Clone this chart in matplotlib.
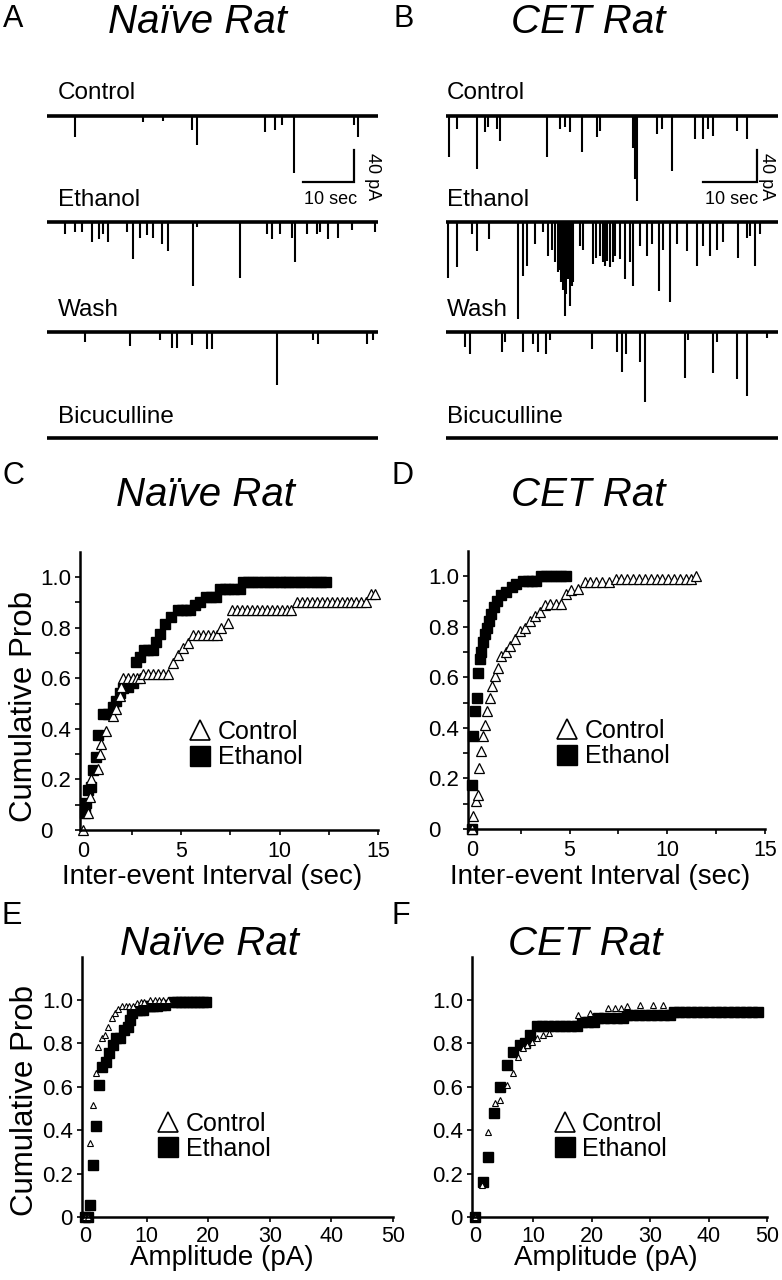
import numpy as np
import matplotlib
matplotlib.use('Agg')
import matplotlib.pyplot as plt
from matplotlib.lines import Line2D

plt.rcParams['font.family'] = ['Liberation Sans', 'DejaVu Sans']

W, H = 782, 1280

# ---------------- traces (event time in s, amplitude in pA) ----------------
trace_names = ['Control', 'Ethanol', 'Wash', 'Bicuculline']
trace_offsets = [0, -133, -270, -403]

naive_control_t = [5.5, 18.9, 22.8, 28.5, 29.5, 42.8, 44.8, 46.2, 48.5, 60.3, 61.1]
naive_control_a = [26, 8, 6, 17, 36, 20, 17, 11, 71, 11, 26]
naive_ethanol_t = [3.5, 5.5, 6.9, 8.8, 10.2, 11.0, 12.0, 15.7, 16.9, 18.3, 19.6, 20.8, 22.6,
                   23.8, 28.7, 29.5, 37.9, 43.2, 44.2, 45.8, 48.1, 48.7, 51.1, 53.0, 53.6,
                   55.2, 57.2, 59.9, 64.5]
naive_ethanol_a = [15, 12, 12, 25, 21, 15, 24, 12, 46, 19, 16, 19, 27, 36, 80, 6, 69, 15, 21,
                   15, 20, 50, 15, 15, 12, 21, 19, 10, 12]
naive_wash_t = [7.5, 16.3, 22.2, 24.6, 25.5, 28.5, 31.4, 32.4, 45.2, 52.3, 53.2, 62.9, 64.0]
naive_wash_a = [12, 17, 10, 20, 20, 16, 21, 21, 66, 10, 15, 15, 10]
naive_bic_t = []
naive_bic_a = []

cet_control_t = [0.6, 2.0, 5.7, 7.2, 7.8, 9.4, 10.0, 18.7, 21.1, 22.0, 23.0, 25.2, 28.0, 28.5,
                 34.7, 35.0, 35.4, 39.1, 40.0, 41.9, 46.1, 47.6, 48.5, 49.4, 53.9, 55.7]
cet_control_a = [51, 16, 66, 20, 14, 16, 31, 51, 16, 14, 20, 45, 26, 19, 40, 79, 106, 22, 16,
                 69, 29, 29, 16, 25, 19, 29]
cet_ethanol_t = [0.4, 2.0, 4.8, 5.7, 8.0, 13.3, 14.3, 15.0, 16.5, 18.0, 18.9, 19.6, 20.2, 20.7,
                 21.0, 21.3, 21.7, 22.0, 22.3, 22.6, 23.0, 23.3, 23.5, 24.8, 25.4, 27.2, 27.8,
                 28.5, 29.0, 29.4, 29.9, 30.4, 30.9, 31.3, 32.2, 33.1, 34.1, 34.6, 35.9, 37.2,
                 38.1, 39.4, 40.2, 41.5, 42.8, 44.6, 46.5, 47.6, 48.9, 50.2, 51.3, 54.1, 55.7,
                 56.3, 57.2, 58.1]
cet_ethanol_a = [69, 56, 15, 36, 21, 121, 67, 55, 27, 12, 42, 34, 50, 62, 60, 75, 84, 117, 90,
                 71, 105, 80, 75, 30, 34, 52, 45, 42, 50, 55, 48, 56, 50, 42, 46, 71, 50, 80,
                 30, 42, 27, 86, 34, 100, 27, 36, 55, 30, 42, 34, 25, 44, 20, 17, 55, 15]
cet_wash_t = [3.5, 4.4, 10.4, 10.9, 14.3, 16.1, 17.0, 18.5, 19.3, 27.0, 31.7, 32.6, 33.3, 35.9,
              36.9, 44.3, 44.8, 49.4, 50.2, 53.9, 55.7, 59.4]
cet_wash_a = [19, 27, 25, 12, 25, 15, 25, 27, 10, 21, 25, 50, 27, 37, 87, 57, 10, 51, 12, 59,
              80, 8]
cet_bic_t = []
cet_bic_a = []

# ---------------- cumulative probability data ----------------
c_ctrl_x = [0, 0.25, 0.34, 0.43, 0.76, 0.85, 0.94, 1.19, 1.53, 1.7, 1.87, 1.95, 2.05, 2.3, 2.55,
            2.75, 2.9, 3.05, 3.3, 3.55, 3.8, 4.05, 4.3, 4.6, 4.83, 5.08, 5.34, 5.6, 5.85, 6.1,
            6.35, 6.6, 6.8, 7.04, 7.38, 7.6, 7.85, 8.1, 8.35, 8.6, 8.85, 9.1, 9.35, 9.6, 9.85,
            10.1, 10.35, 10.6, 10.9, 11.15, 11.4, 11.65, 11.9, 12.15, 12.4, 12.65, 12.9, 13.15,
            13.4, 13.65, 13.9, 14.15, 14.4, 14.65, 14.85]
c_ctrl_y = [0, 0.067, 0.13, 0.2, 0.24, 0.30, 0.34, 0.39, 0.45, 0.48, 0.53, 0.565, 0.6, 0.6, 0.6,
            0.6, 0.6, 0.618, 0.618, 0.618, 0.618, 0.618, 0.618, 0.66, 0.69, 0.72, 0.74, 0.77,
            0.77, 0.77, 0.77, 0.77, 0.77, 0.80, 0.82, 0.868, 0.868, 0.868, 0.868, 0.868, 0.868,
            0.868, 0.868, 0.868, 0.868, 0.868, 0.868, 0.868, 0.9, 0.9, 0.9, 0.9, 0.9, 0.9, 0.9,
            0.9, 0.9, 0.9, 0.9, 0.9, 0.9, 0.9, 0.9, 0.934, 0.934]
c_eth_x = [0.08, 0.17, 0.25, 0.43, 0.51, 0.68, 0.76, 1.02, 1.26, 1.53, 1.7, 1.87, 2.03, 2.29,
           2.54, 2.71, 2.88, 3.1, 3.33, 3.56, 3.73, 3.9, 4.15, 4.49, 4.83, 5.03, 5.23, 5.42,
           5.68, 5.93, 6.27, 6.52, 6.78, 6.95, 7.2, 7.45, 7.7, 7.97, 8.13, 8.4, 8.65, 8.9, 9.2,
           9.45, 9.7, 10.0, 10.25, 10.5, 10.8, 11.05, 11.3, 11.6, 11.85, 12.1, 12.37]
c_eth_y = [0.066, 0.105, 0.158, 0.17, 0.237, 0.29, 0.375, 0.46, 0.46, 0.487, 0.51, 0.54, 0.56,
           0.565, 0.58, 0.664, 0.684, 0.71, 0.71, 0.71, 0.743, 0.776, 0.815, 0.84, 0.868,
           0.868, 0.868, 0.868, 0.888, 0.90, 0.92, 0.92, 0.92, 0.954, 0.954, 0.954, 0.954,
           0.954, 0.979, 0.979, 0.979, 0.979, 0.979, 0.979, 0.979, 0.979, 0.979, 0.979, 0.979,
           0.979, 0.979, 0.979, 0.979, 0.979, 0.979]

d_ctrl_x = [0, 0.07, 0.2, 0.29, 0.37, 0.49, 0.58, 0.66, 0.78, 0.92, 1.05, 1.17, 1.34, 1.51, 1.73,
            1.94, 2.19, 2.45, 2.7, 2.96, 3.21, 3.47, 3.72, 3.98, 4.28, 4.58, 4.83, 5.09, 5.43,
            5.77, 6.05, 6.35, 6.65, 7.04, 7.35, 7.65, 7.95, 8.25, 8.55, 8.85, 9.15, 9.45, 9.75,
            10.05, 10.35, 10.65, 10.95, 11.2, 11.45]
d_ctrl_y = [0, 0.05, 0.11, 0.135, 0.24, 0.31, 0.366, 0.41, 0.465, 0.518, 0.565, 0.605, 0.638,
            0.684, 0.698, 0.724, 0.75, 0.783, 0.796, 0.823, 0.843, 0.857, 0.884, 0.89, 0.89,
            0.89, 0.93, 0.943, 0.95, 0.977, 0.977, 0.977, 0.977, 0.977, 0.99, 0.99, 0.99, 0.99,
            0.99, 0.99, 0.99, 0.99, 0.99, 0.99, 0.99, 0.99, 0.99, 0.99, 1.0]
d_eth_x = [0, 0, 0.07, 0.15, 0.24, 0.32, 0.41, 0.49, 0.58, 0.66, 0.78, 0.88, 1.0, 1.12, 1.26,
           1.51, 1.77, 2.03, 2.28, 2.62, 2.85, 3.08, 3.3, 3.56, 3.8, 4.05, 4.3, 4.55, 4.83]
d_eth_y = [0, 0.175, 0.366, 0.465, 0.518, 0.617, 0.67, 0.698, 0.74, 0.77, 0.796, 0.823, 0.85,
           0.876, 0.902, 0.923, 0.936, 0.956, 0.968, 0.981, 0.981, 0.981, 0.981, 1.0, 1.0, 1.0,
           1.0, 1.0, 1.0]

e_ctrl_x = [0, 0.4, 0.81, 1.25, 1.79, 2.16, 2.7, 3.25, 3.79, 4.33, 4.87, 5.41, 6.0, 6.6, 7.2,
            7.84, 8.39, 9.0, 9.6, 10.6, 11.3, 12.0, 12.7, 13.4]
e_ctrl_y = [0, 0, 0.34, 0.516, 0.662, 0.785, 0.823, 0.839, 0.877, 0.916, 0.939, 0.957, 0.972,
            0.972, 0.972, 0.972, 0.985, 0.99, 0.99, 1.0, 1.0, 1.0, 1.0, 1.0]
e_eth_x = [0, 0.45, 0.81, 1.25, 1.79, 2.27, 2.81, 3.41, 3.95, 4.49, 5.03, 5.6, 6.33, 7.03, 7.3,
           7.57, 8.39, 8.9, 9.47, 10.0, 10.5, 11.0, 11.6, 12.3, 13.0, 14.3, 14.9, 15.5, 16.1,
           16.7, 17.3, 17.9, 18.5, 19.1, 19.7]
e_eth_y = [0, 0, 0.055, 0.24, 0.42, 0.608, 0.693, 0.716, 0.754, 0.793, 0.823, 0.823, 0.862,
           0.877, 0.908, 0.939, 0.954, 0.954, 0.954, 0.972, 0.972, 0.972, 0.972, 0.977, 0.977,
           0.992, 0.992, 0.992, 0.992, 0.992, 0.992, 0.992, 0.992, 0.992, 0.992]

f_ctrl_x = [0, 1.14, 2.28, 3.42, 4.28, 5.42, 6.45, 7.42, 8.28, 8.85, 9.7, 10.56, 11.7, 12.7,
            17.7, 19.7, 22.8, 24.0, 25.0, 26.0, 28.3, 30.5, 32.2]
f_ctrl_y = [0, 0.147, 0.393, 0.524, 0.539, 0.608, 0.662, 0.739, 0.777, 0.793, 0.808, 0.823,
            0.839, 0.846, 0.931, 0.939, 0.962, 0.962, 0.962, 0.972, 0.977, 0.977, 0.977]
f_eth_x = [0, 1.31, 2.28, 3.25, 4.28, 5.42, 6.45, 7.7, 8.56, 9.42, 10.56, 11.5, 12.5, 13.5, 14.5,
           15.5, 16.5, 17.4, 18.3, 19.3, 20.3, 21.1, 22.1, 23.2, 24.3, 25.4, 26.0, 27.0, 28.1,
           29.1, 30.2, 31.2, 32.3, 33.4, 34.0, 35.0, 36.0, 37.0, 38.1, 39.1, 40.1, 41.2, 42.2,
           43.3, 44.3, 45.4, 46.4, 47.5, 48.5]
f_eth_y = [0, 0.163, 0.278, 0.478, 0.6, 0.7, 0.762, 0.793, 0.8, 0.839, 0.88, 0.88, 0.88, 0.88,
           0.88, 0.88, 0.88, 0.88, 0.9, 0.9, 0.9, 0.916, 0.916, 0.916, 0.916, 0.916, 0.931,
           0.931, 0.931, 0.931, 0.931, 0.931, 0.931, 0.931, 0.946, 0.946, 0.946, 0.946, 0.946,
           0.946, 0.946, 0.946, 0.946, 0.946, 0.946, 0.946, 0.946, 0.946, 0.946]

prob_ticks = [0, 0.2, 0.4, 0.6, 0.8, 1.0]
prob_labels = ['0', '0.2', '0.4', '0.6', '0.8', '1.0']
iei_ticks = [0, 5, 10, 15]
amp_ticks = [0, 10, 20, 30, 40, 50]


def fx(px):
    return px / W


def fy(py):
    return 1 - py / H


def px_axes(fig, left, top, right, bottom):
    return fig.add_axes([left / W, 1 - bottom / H, (right - left) / W, (bottom - top) / H])


def draw_traces(ax, traces, duration):
    for (t, a), off in zip(traces, trace_offsets):
        ax.hlines(off, 0, duration, color='black', lw=2.6)
        if len(t):
            a = np.array(a)
            ax.vlines(t, off - a, off, color='black', lw=1.5)
    ax.set_xlim(0, duration)
    ax.set_ylim(-430, 20)
    ax.axis('off')


def scale_bar(ax, t0):
    # 10 sec x 40 pA
    ax.plot([t0, t0 + 10, t0 + 10], [-82.5, -82.5, -42.5], color='black', lw=1.6,
            solid_joinstyle='miter')


def style_cdf(ax):
    for s in ['top', 'right']:
        ax.spines[s].set_visible(False)
    for s in ['left', 'bottom']:
        ax.spines[s].set_linewidth(1.8)
    ax.tick_params(axis='both', which='both', direction='out', length=3.6, width=1.2)
    ax.tick_params(axis='x', labelsize=15.5)
    ax.tick_params(axis='y', labelsize=16)


fig = plt.figure(figsize=(W / 100, H / 100), dpi=100)

# ---------------- A / B traces ----------------
axA = px_axes(fig, 47, 100, 378, 460)
draw_traces(axA, [(naive_control_t, naive_control_a), (naive_ethanol_t, naive_ethanol_a),
                  (naive_wash_t, naive_wash_a), (naive_bic_t, naive_bic_a)], 65)
scale_bar(axA, 50.3)

axB = px_axes(fig, 446, 100, 778, 460)
draw_traces(axB, [(cet_control_t, cet_control_a), (cet_ethanol_t, cet_ethanol_a),
                  (cet_wash_t, cet_wash_a), (cet_bic_t, cet_bic_a)], 61.5)
scale_bar(axB, 47.6)

label_y = [99, 206, 316, 423]
for name, ly in zip(trace_names, label_y):
    fig.text(fx(58), fy(ly), name, fontsize=17.5, va='baseline', ha='left')
    fig.text(fx(447), fy(ly), name, fontsize=17.5, va='baseline', ha='left')

for cx, vx in [(331, 372), (732, 767)]:
    fig.text(fx(cx), fy(204), '10 sec', fontsize=13, ha='center', va='baseline')
    fig.text(fx(vx), fy(177), '40 pA', fontsize=13, ha='center', va='center', rotation=270)

title_kw = dict(fontsize=29, style='italic', ha='center', va='baseline')
letter_kw = dict(fontsize=22, ha='left', va='baseline')
fig.text(fx(3), fy(27), 'A', **letter_kw)
fig.text(fx(393), fy(27), 'B', **letter_kw)
fig.text(fx(197), fy(33), 'Naïve Rat', **title_kw)
fig.text(fx(588), fy(33), 'CET Rat', **title_kw)

fig.text(fx(2), fy(484), 'C', **letter_kw)
fig.text(fx(392), fy(484), 'D', **letter_kw)
fig.text(fx(205), fy(506), 'Naïve Rat', **title_kw)
fig.text(fx(588), fy(506), 'CET Rat', **title_kw)

fig.text(fx(2), fy(924), 'E', **letter_kw)
fig.text(fx(392), fy(924), 'F', **letter_kw)
fig.text(fx(209), fy(955), 'Naïve Rat', **title_kw)
fig.text(fx(585), fy(955), 'CET Rat', **title_kw)

legend_handles = [
    Line2D([], [], marker='^', ls='none', markersize=15, mfc='white', mec='black', mew=1.2),
    Line2D([], [], marker='s', ls='none', markersize=14, mfc='black', mec='black'),
]
legend_labels = ['Control', 'Ethanol']


def add_legend(ax, x, y):
    ax.legend(legend_handles, legend_labels, loc='upper left', bbox_to_anchor=(x, y),
              frameon=False, fontsize=18, handlelength=0.8, handletextpad=0.3,
              labelspacing=0.05, borderpad=0, borderaxespad=0)


# ---------------- C / D inter-event interval ----------------
for left, right, bottom, xmin, cx, cy, ex, ey, lx, label_x in [
        (80, 378, 830, -0.15, c_ctrl_x, c_ctrl_y, c_eth_x, c_eth_y, 0.37, 212),
        (468, 765, 829, -0.2, d_ctrl_x, d_ctrl_y, d_eth_x, d_eth_y, 0.30, 600)]:
    top = bottom - 1.1 * 253
    ax = px_axes(fig, left, top, right, bottom)
    ax.plot(ex, ey, 's', ms=6.5, mfc='black', mec='black', clip_on=False)
    ax.plot(cx, cy, '^', ms=7, mfc='white', mec='black', mew=0.9, clip_on=False)
    ax.set_xlim(xmin, 15)
    ax.set_ylim(0, 1.1)
    style_cdf(ax)
    ax.set_xticks(iei_ticks)
    ax.set_xticks([2.5, 7.5, 12.5], minor=True)
    ax.set_yticks(prob_ticks, prob_labels)
    ax.set_yticks([0.1, 0.3, 0.5, 0.7, 0.9], minor=True)
    ax.tick_params(axis='y', pad=25)
    ax.tick_params(axis='x', pad=4)
    for lab in ax.get_yticklabels():
        lab.set_ha('left')
    add_legend(ax, lx, 0.395)
    fig.text(fx(label_x), fy(884), 'Inter-event Interval (sec)', fontsize=20,
             ha='center', va='baseline')
    if left < 200:
        fig.text(fx(24), fy(707), 'Cumulative Prob', fontsize=22.5, rotation=90,
                 ha='center', va='center')

# ---------------- E / F amplitude ----------------
for left, right, cx, cy, ex, ey, lx, label_x in [
        (82, 393, e_ctrl_x, e_ctrl_y, e_eth_x, e_eth_y, 0.245, 222),
        (472, 767, f_ctrl_x, f_ctrl_y, f_eth_x, f_eth_y, 0.28, 606)]:
    bottom = 1217
    top = bottom - 1.2 * 217
    ax = px_axes(fig, left, top, right, bottom)
    ax.plot(ex, ey, 's', ms=7.5, mfc='black', mec='black', clip_on=False)
    ax.plot(cx, cy, '^', ms=4.8, mfc='white', mec='black', mew=0.8, clip_on=False)
    ax.set_xlim(-0.5, 50)
    ax.set_ylim(0, 1.2)
    style_cdf(ax)
    ax.set_xticks(amp_ticks)
    ax.set_yticks(prob_ticks, prob_labels)
    ax.tick_params(axis='y', pad=3)
    ax.tick_params(axis='x', pad=3)
    add_legend(ax, lx, 0.405)
    fig.text(fx(label_x), fy(1265), 'Amplitude (pA)', fontsize=20, ha='center',
             va='baseline')
    if left < 200:
        fig.text(fx(25), fy(1101), 'Cumulative Prob', fontsize=22.5, rotation=90,
                 ha='center', va='center')

fig.savefig('out.png', dpi=100)
